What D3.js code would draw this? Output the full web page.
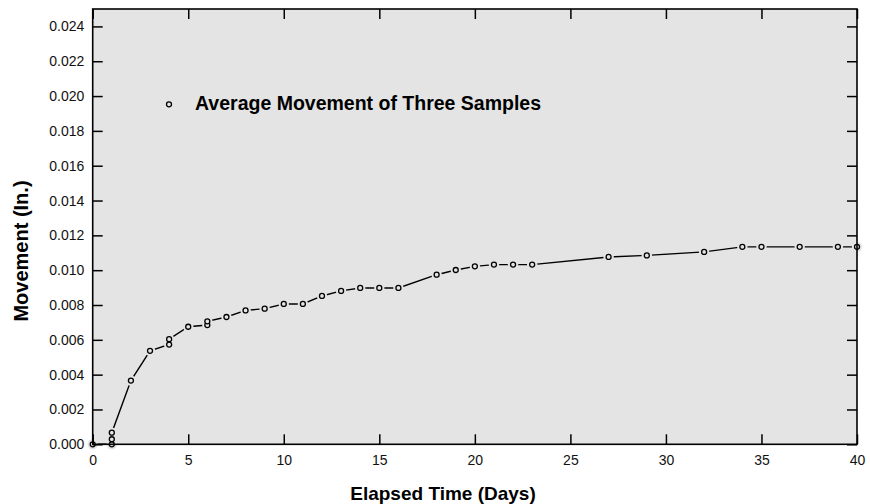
<!DOCTYPE html>
<html><head><meta charset="utf-8">
<script src="https://cdn.jsdelivr.net/npm/d3@7"></script>
<style>body{margin:0;background:#fff}svg{display:block}</style>
</head><body>
<svg id="c" width="870" height="504"></svg>
<script>
const days = [0,1,1,1,2,3,4,4,5,6,6,7,8,9,10,11,12,13,14,15,16,18,19,20,21,22,23,27,29,32,34,35,37,39,40];
const movement = [0.0000,0.0000,0.00029,0.00067,0.00366,0.00537,0.00573,0.00604,0.00675,0.00685,0.00706,0.00731,0.00769,0.00779,0.00806,0.00806,0.00852,0.00881,0.00898,0.00898,0.00898,0.00974,0.01001,0.01022,0.01032,0.01032,0.01032,0.01076,0.01085,0.01105,0.01134,0.01134,0.01134,0.01134,0.01134];
const xTicks = [0,5,10,15,20,25,30,35,40];
const yTicks = [0,0.002,0.004,0.006,0.008,0.010,0.012,0.014,0.016,0.018,0.020,0.022,0.024];
const seriesName = "Average Movement of Three Samples";
const xTitle = "Elapsed Time (Days)";
const yTitle = "Movement (In.)";

const L=92.7,R=857,T=9,B=444.3;
const bg="#e4e4e4";
const svg=d3.select("#c");
const x=d3.scaleLinear().domain([0,40]).range([L,R]);
const y=d3.scaleLinear().domain([0,0.025]).range([B,T]);
const font="Liberation Sans, Arial, Helvetica, sans-serif";

svg.append("rect").attr("x",L).attr("y",T).attr("width",R-L).attr("height",B-T).attr("fill",bg);

const data=days.map((d,i)=>({d,v:movement[i]}));
const g=svg.append("g");
g.append("path").datum(data).attr("fill","none").attr("stroke","#000").attr("stroke-width",1.4)
 .attr("d",d3.line().x(p=>x(p.d)).y(p=>y(p.v)));
g.selectAll("circle.h").data(data).join("circle").attr("class","h")
 .attr("cx",p=>x(p.d)).attr("cy",p=>y(p.v)).attr("r",5.2).attr("fill",bg);
g.selectAll("circle.m").data(data).join("circle").attr("class","m")
 .attr("cx",p=>x(p.d)).attr("cy",p=>y(p.v)).attr("r",2.5).attr("fill",bg).attr("stroke","#000").attr("stroke-width",1.3);

// axes
const tl=10;
const axB=svg.append("g").attr("transform",`translate(0,${B})`).call(d3.axisBottom(x).tickValues(xTicks).tickFormat(d3.format("d")).tickSizeInner(-tl).tickSizeOuter(0).tickPadding(11));
const axT=svg.append("g").attr("transform",`translate(0,${T})`).call(d3.axisTop(x).tickValues(xTicks).tickFormat("").tickSizeInner(-tl).tickSizeOuter(0));
const axL=svg.append("g").attr("transform",`translate(${L},0)`).call(d3.axisLeft(y).tickValues(yTicks).tickFormat(d3.format(".3f")).tickSizeInner(-tl).tickSizeOuter(0).tickPadding(8.4));
const axR=svg.append("g").attr("transform",`translate(${R},0)`).call(d3.axisRight(y).tickValues(yTicks).tickFormat("").tickSizeInner(-tl).tickSizeOuter(0));
[axB,axT,axL,axR].forEach(a=>{
  a.select(".domain").remove();
  a.selectAll(".tick line").attr("stroke","#000").attr("stroke-width",1.5);
  a.selectAll("text").attr("font-family",font).attr("font-size",14).attr("fill","#111");
});
svg.append("rect").attr("x",L).attr("y",T).attr("width",R-L).attr("height",B-T).attr("fill","none").attr("stroke","#000").attr("stroke-width",1.6);

// legend
svg.append("circle").attr("cx",169).attr("cy",104.3).attr("r",2.5).attr("fill",bg).attr("stroke","#000").attr("stroke-width",1.3);
svg.append("text").attr("x",195).attr("y",109.5).attr("font-family",font).attr("font-weight","bold").attr("font-size",19.5).attr("fill","#000").text(seriesName);

// titles
svg.append("text").attr("x",443).attr("y",500).attr("text-anchor","middle").attr("font-family",font).attr("font-weight","bold").attr("font-size",19).text(xTitle);
svg.append("text").attr("transform","translate(28,251) rotate(-90)").attr("text-anchor","middle").attr("font-family",font).attr("font-weight","bold").attr("font-size",20).text(yTitle);
</script>
</body></html>
